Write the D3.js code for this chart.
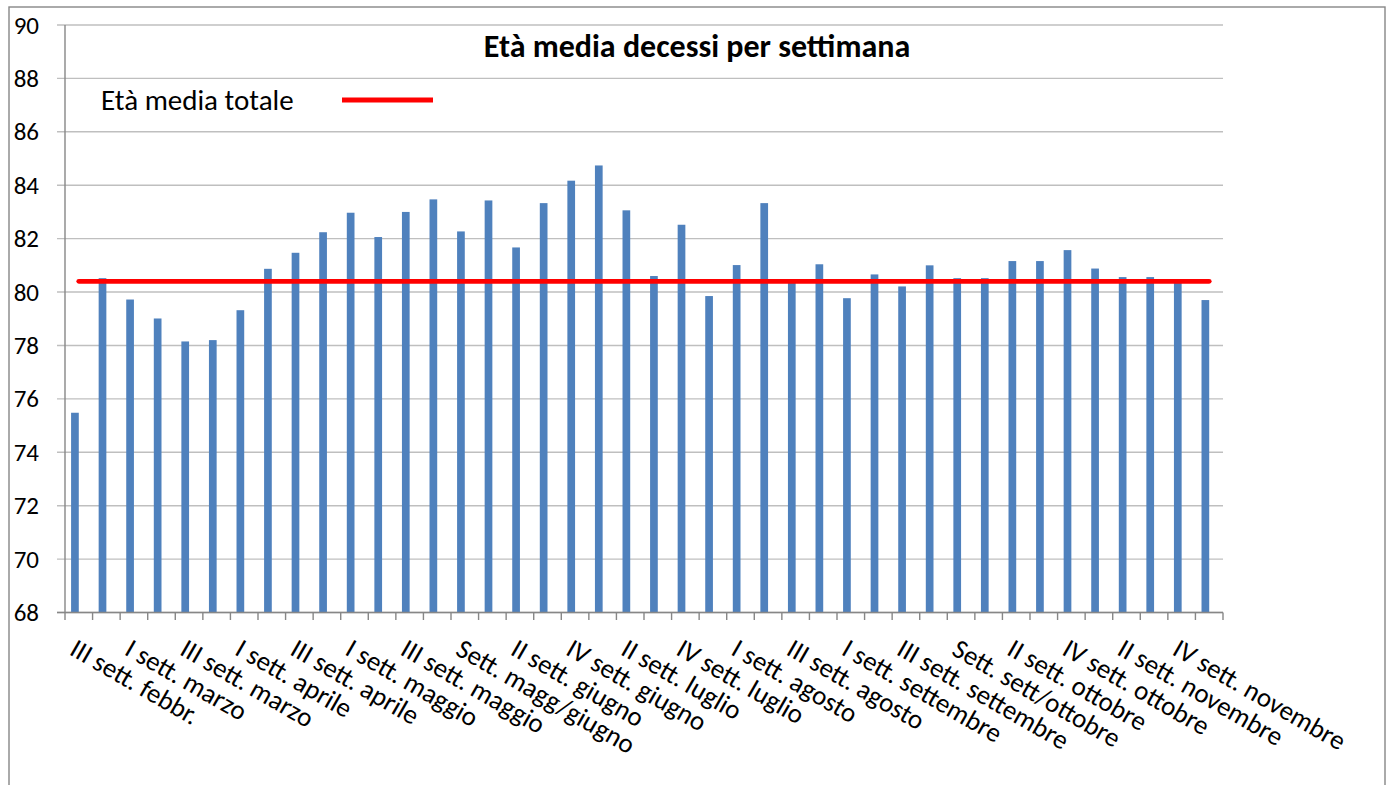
<!DOCTYPE html>
<html><head><meta charset="utf-8">
<script src="https://cdn.jsdelivr.net/npm/d3@7"></script>
<style>
html,body{margin:0;padding:0;background:#fff;}
svg{display:block;font-family:Carlito,Lato,sans-serif;}
</style></head>
<body>
<svg id="chart" width="1392" height="785"></svg>
<script>
const categories = [
 "III sett. febbr.","IV sett. febbr.","I sett. marzo","II sett. marzo","III sett. marzo","IV sett. marzo",
 "I sett. aprile","II sett. aprile","III sett. aprile","IV sett. aprile","I sett. maggio","II sett. maggio",
 "III sett. maggio","IV sett. maggio","Sett. magg/giugno","I sett. giugno","II sett. giugno","III sett. giugno",
 "IV sett. giugno","I sett. luglio","II sett. luglio","III sett. luglio","IV sett. luglio","Sett. lugl/agosto",
 "I sett. agosto","II sett. agosto","III sett. agosto","IV sett. agosto","I sett. settembre","II sett. settembre",
 "III sett. settembre","IV sett. settembre","Sett. sett/ottobre","I sett. ottobre","II sett. ottobre","III sett. ottobre",
 "IV sett. ottobre","I sett. novembre","II sett. novembre","III sett. novembre","IV sett. novembre","I sett. dicembre"
];
const etaMedia = [
 75.48,80.52,79.72,79.01,78.15,78.2,79.32,80.87,81.47,82.24,
 82.97,82.06,83.0,83.47,82.27,83.43,81.67,83.33,84.17,84.74,
 83.06,80.6,82.52,79.85,81.01,83.33,80.4,81.04,79.77,80.66,
 80.21,81.0,80.52,80.52,81.16,81.16,81.57,80.88,80.56,80.56,
 80.4,79.7
];
const etaMediaTotale = 80.4;
const yTicks = [68,70,72,74,76,78,80,82,84,86,88,90];
const titolo = "Età media decessi per settimana";
const legendaLabel = "Età media totale";

(function(){
const svg = d3.select("#chart");
const pLeft = 65, pRight = 1223, pTop = 25, pBottom = 612.5;

// outer border
svg.append("rect").attr("x",9).attr("y",7).attr("width",1376).attr("height",800)
  .attr("fill","#fff").attr("stroke","#878787").attr("stroke-width",1.4);

const x = d3.scaleBand().domain(categories).range([pLeft,pRight]).padding(0);
const y = d3.scaleLinear().domain([68,90]).range([pBottom,pTop]);

// gridlines
svg.append("g").selectAll("line").data(yTicks).join("line")
  .attr("x1",57).attr("x2",pRight).attr("y1",d=>y(d)).attr("y2",d=>y(d))
  .attr("stroke","#bfbfbf").attr("stroke-width",1.4);

// y labels
svg.append("g").selectAll("text").data(yTicks).join("text")
  .attr("x",39).attr("y",d=>y(d)).attr("dy","0.34em").attr("text-anchor","end")
  .attr("font-size",25).attr("fill","#000").text(d=>d);

// bars
const bw = x.bandwidth();
const barW = 7.7;
svg.append("g").selectAll("rect").data(etaMedia).join("rect")
  .attr("x",(d,i)=>x(categories[i]) + bw/2 - barW)
  .attr("width",barW)
  .attr("y",d=>y(d)).attr("height",d=>pBottom - y(d))
  .attr("fill","#4f81bd");

// axes lines
svg.append("line").attr("x1",pLeft).attr("x2",pLeft).attr("y1",pTop).attr("y2",pBottom)
  .attr("stroke","#878787").attr("stroke-width",1.4);
svg.append("line").attr("x1",57).attr("x2",pRight).attr("y1",pBottom).attr("y2",pBottom)
  .attr("stroke","#878787").attr("stroke-width",1.4);
// x ticks at band boundaries
const boundaries = categories.map(c=>x(c)).concat([pRight]);
svg.append("g").selectAll("line").data(boundaries).join("line")
  .attr("x1",d=>d).attr("x2",d=>d).attr("y1",pBottom).attr("y2",pBottom+7.5)
  .attr("stroke","#878787").attr("stroke-width",1.4);

// average line
const first = categories[0], last = categories[categories.length-1];
svg.append("line")
  .attr("x1",x(first)+bw/2).attr("x2",x(last)+bw/2)
  .attr("y1",y(etaMediaTotale)).attr("y2",y(etaMediaTotale))
  .attr("stroke","#ff0000").attr("stroke-width",4.8).attr("stroke-linecap","round");

// x labels (every other)
const shown = categories.filter((c,i)=>i%2===0);
svg.append("g").selectAll("text").data(shown).join("text")
  .attr("transform",c=>`translate(${x(c)+bw/2-2},639) rotate(30)`)
  .attr("x",0).attr("y",0).attr("dy","0.64em")
  .attr("font-size",27).attr("fill","#000").text(c=>c);

// title
svg.append("text").attr("x",697).attr("y",57).attr("text-anchor","middle")
  .attr("font-size",32).attr("font-weight","bold").attr("fill","#000").text(titolo);

// legend
svg.append("text").attr("x",101).attr("y",110).attr("font-size",29).attr("fill","#000").text(legendaLabel);
svg.append("line").attr("x1",342).attr("x2",433).attr("y1",100).attr("y2",100)
  .attr("stroke","#ff0000").attr("stroke-width",4.8);
})();
</script>
</body></html>
